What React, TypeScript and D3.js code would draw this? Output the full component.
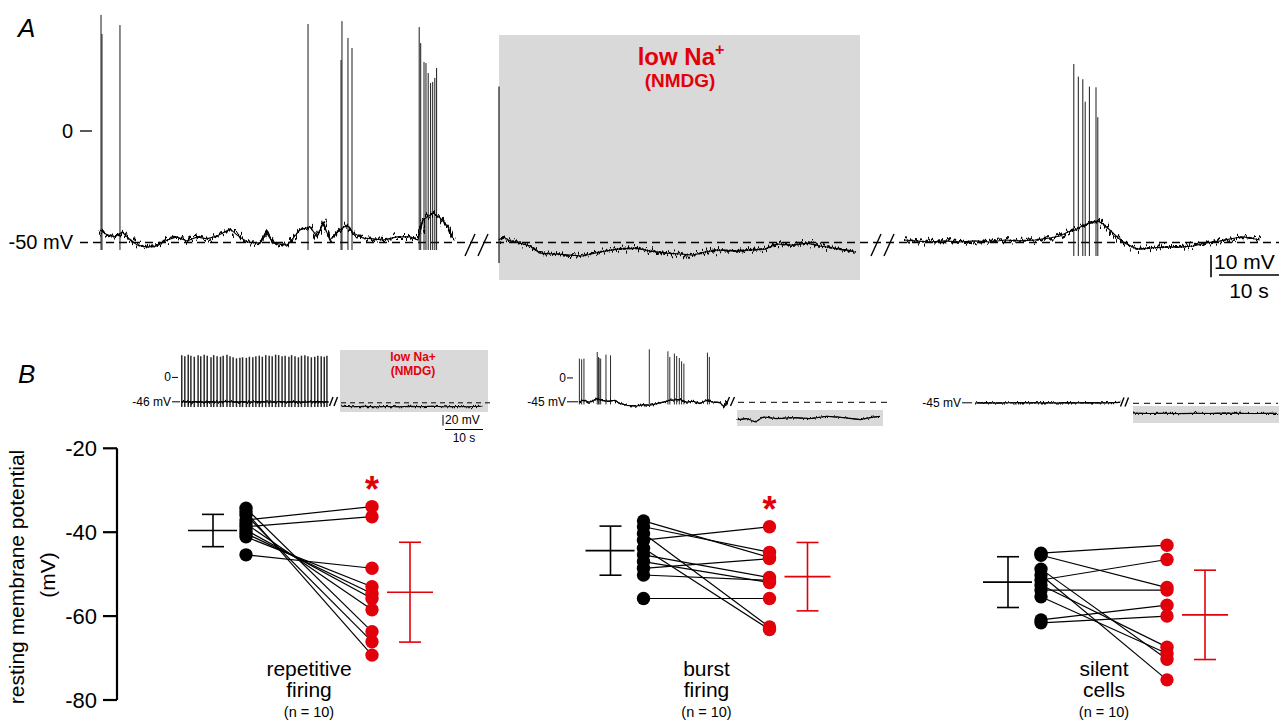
import React from 'react';
import * as d3 from 'd3';

type P = [number, number];

// ---------------- Panel A data: [time (s), membrane potential (mV)] ----------------
const aCtrlBase: P[] = [
  [0, -44.6], [1.2, -46.8], [2.5, -47.7], [3.7, -45.5], [4.7, -48.2], [6.2, -51.4], [7.8, -52.3],
  [9.5, -51.8], [11.2, -49.1], [12.8, -47.7], [14.5, -49.5], [16.2, -47.7], [17.8, -48.6],
  [19.5, -47.3], [21.7, -44.1], [22.8, -46.8], [24.5, -50.0], [26.7, -50.5], [27.8, -45.9],
  [28.8, -50.5], [31.2, -51.4], [32.2, -48.2], [33.3, -44.6], [35.0, -43.2], [36.2, -47.7],
  [37.2, -41.4], [38.3, -49.1], [39.5, -45.5], [41.2, -42.3], [42.2, -45.9], [43.8, -48.2],
  [45.5, -48.6], [47.2, -49.1], [49.5, -47.7], [51.7, -47.7], [53.0, -49.1], [53.8, -40.1],
  [55.5, -36.9], [56.7, -39.2], [58.0, -43.2], [58.8, -48.2],
];
const aCtrlSpikes: P[] = [
  [0.17, 52.3], [0.33, 43.7], [3.33, 47.7], [34.67, 48.2], [40.17, 32.0], [40.33, 49.5],
  [41.33, 41.9], [42.0, 37.4], [53.2, 46.8], [53.45, 39.6], [54.0, 31.1], [54.33, 30.6],
  [54.7, 26.1], [55.1, 21.6], [55.45, 22.1], [55.8, 23.9], [56.1, 28.4],
];
const aCtrlTrough = -53.6;

const aLowNaBase: P[] = [
  [0, -49.1], [0.7, -47.7], [1.8, -49.5], [3.5, -50.5], [5.2, -51.8], [6.8, -55.0], [9.3, -55.4],
  [11.8, -55.9], [14.0, -56.3], [16.8, -54.5], [19.7, -53.2], [23.0, -52.7], [25.2, -54.1],
  [28.0, -55.0], [30.2, -55.4], [32.3, -55.9], [34.3, -54.5], [36.3, -53.6], [39.3, -54.1],
  [41.8, -53.6], [44.3, -53.2], [46.3, -50.9], [48.8, -51.4], [51.3, -50.5], [53.5, -51.8],
  [55.7, -52.7], [57.7, -53.6], [59.3, -54.5],
];
const aLowNaSpikes: P[] = [[0, 20.0]];
const aLowNaTrough = -59.5;

const aWashBase: P[] = [
  [0, -49.1], [1.8, -49.5], [4.3, -50.0], [6.8, -49.5], [9.3, -50.0], [11.8, -49.5], [14.3, -50.0],
  [16.8, -49.1], [19.3, -49.5], [21.8, -49.1], [24.3, -48.2], [26.0, -47.3], [27.3, -45.5],
  [28.5, -44.6], [29.7, -42.8], [31.0, -41.4], [32.3, -40.5], [33.2, -41.9], [34.3, -44.6],
  [35.7, -48.2], [36.8, -50.5], [38.8, -53.2], [41.0, -52.7], [43.5, -52.3], [46.0, -52.3],
  [48.2, -51.8], [50.2, -50.5], [52.7, -49.5], [55.2, -48.2], [56.5, -47.7], [57.7, -48.2],
  [59.3, -49.1],
];
const aWashSpikes: P[] = [
  [28.3, 30.2], [29.05, 24.5], [29.8, 23.3], [30.2, 13.2], [30.9, 20.0], [32.0, 19.7], [32.3, 6.2],
];
const aWashTrough = -56.3;

const aRefMV = -50;
const aTicksMV = [0, -50];
const aTickLabels = ['0', '-50 mV'];
const aScaleMV = 10;
const aScaleS = 10;

// ---------------- Panel B inset data ----------------
const bRepRest = -46;
const bRepBase: P[] = [
  [0, -45.6], [2, -46.4], [4, -45.8], [6, -46.6], [8, -45.9], [10, -46.3], [12, -45.5], [14, -46.5],
  [16, -46.0], [18, -46.8], [20, -45.7], [22, -46.2], [24, -46.6], [26, -45.8], [28, -46.4],
  [30, -45.9], [32, -46.7], [34, -46.1], [36, -45.6], [38.6, -46.3],
];
const bRepSpikeT = [
  0.2, 1.0, 1.9, 2.6, 3.5, 4.5, 5.2, 6.1, 6.9, 7.9, 8.6, 9.5, 10.4, 11.1, 12.1, 12.9, 13.7, 14.6,
  15.5, 16.2, 17.2, 18.0, 18.9, 19.7, 20.6, 21.4, 22.3, 23.2, 24.0, 24.9, 25.7, 26.6, 27.4, 28.4,
  29.1, 30.0, 30.9, 31.7, 32.6, 33.4, 34.3, 35.2, 36.0, 36.9, 37.7, 38.4,
];
const bRepSpikePeak = [
  42, 40, 43, 41, 39, 42, 40, 43, 41, 38, 42, 40, 39, 41, 43, 40, 38, 36, 37, 38, 37, 39, 38, 40,
  41, 39, 42, 41, 40, 43, 42, 40, 41, 39, 42, 40, 38, 41, 42, 40, 38, 39, 41, 40, 39, 41,
];
const bRepTrough = -56;
const bRepLowNa: P[] = [
  [0, -54.5], [3, -55.2], [6, -54.6], [9, -55.4], [12, -54.8], [15, -55.3], [18, -54.7], [21, -55.1],
  [24, -54.5], [27, -55.3], [30, -54.9], [33, -55.2], [36.8, -54.7],
];

const bBurstRest = -45;
const bBurstBase: P[] = [
  [0, -45.4], [1.1, -42.2], [2.9, -45.9], [4.7, -39.0], [6.0, -42.2], [7.7, -44.1], [9.5, -42.2],
  [10.8, -48.4], [12.6, -51.6], [15.2, -52.9], [16.9, -50.3], [18.7, -51.6], [20.5, -48.4],
  [22.2, -45.4], [23.9, -42.2], [26.6, -40.8], [28.3, -45.4], [30.1, -44.1], [31.8, -48.4],
  [33.6, -42.2], [35.3, -45.4], [37.1, -46.5], [38.2, -54.8], [38.9, -44.1],
];
const bBurstSpikes: P[] = [
  [0.1, 36.5], [0.7, 35.2], [1.3, 36.5], [4.8, 49], [5.1, 39.5], [5.3, 37.6], [5.7, 36.5],
  [7.1, 44], [8.3, 42.7], [18.5, 54], [23.4, 50.3], [23.9, 39.5], [25.1, 46], [25.7, 41.4],
  [26.4, 37.6], [27.0, 31.4], [27.6, 27], [33.8, 47.8], [34.3, 39.5],
];
const bBurstTrough = -50;
const bBurstLowNa: P[] = [
  [0, -78.6], [2.5, -76.7], [4.7, -83.1], [6.8, -73.7], [10.4, -76.7], [14.7, -74.8], [19.1, -76.7],
  [23.5, -72.4], [27.9, -74.8], [32.3, -78.6], [34.9, -74.8], [37.5, -72.4],
];

const bSilentRest = -45;
const bSilentBase: P[] = [
  [0, -45.3], [3, -44.8], [6, -45.4], [9, -45.0], [12, -44.6], [15, -45.2], [18, -44.9], [21, -45.3],
  [24, -44.7], [27, -45.1], [30, -44.6], [33, -45.2], [36, -44.8], [38.2, -44.2],
];
const bSilentLowNa: P[] = [
  [0, -64.5], [4, -65.2], [8, -64.8], [12, -65.4], [16, -64.9], [20, -65.1], [24, -64.4], [28, -65.0],
  [32, -65.3], [36, -64.8], [37.9, -65.0],
];
const bInsetScaleMV = 20;
const bInsetScaleS = 10;

// ---------------- Panel B dot plot data (resting membrane potential, mV) ----------------
const groups = ['repetitive firing', 'burst firing', 'silent cells'];
const groupLines = [['repetitive', 'firing'], ['burst', 'firing'], ['silent', 'cells']];
const groupN = ['(n = 10)', '(n = 10)', '(n = 10)'];
const repCtrl = [-34.3, -35.2, -35.9, -37.1, -38.0, -38.7, -39.5, -40.3, -41.1, -45.4];
const repLowNa = [-63.7, -69.3, -66.1, -33.9, -58.5, -36.3, -55.8, -54.6, -53.0, -48.6];
const burstCtrl = [-37.3, -38.7, -40.3, -41.9, -43.8, -45.4, -47.0, -48.6, -50.2, -55.8];
const burstLowNa = [-46.0, -44.8, -62.6, -38.7, -63.2, -50.8, -52.0, -46.3, -51.5, -55.8];
const silentCtrl = [-45.0, -45.5, -48.8, -50.2, -51.4, -52.6, -53.8, -55.4, -60.9, -61.6];
const silentLowNa = [-43.1, -53.2, -70.3, -75.2, -46.5, -67.4, -53.8, -68.9, -57.4, -60.0];
const ctrlMean = [-39.6, -44.4, -51.9];
const ctrlSD = [3.85, 5.85, 6.05];
const lowNaMean = [-54.3, -50.6, -59.7];
const lowNaSD = [11.9, 8.15, 10.65];
const significant = [true, true, false];
const yTicks = [-20, -40, -60, -80];

// ---------------- styling ----------------
const RED = '#e2000b';
const GRAY = '#d9d9d9';
const FONT = '"Liberation Sans", Arial, Helvetica, sans-serif';

// Panel A scales
const xA = d3.scaleLinear().domain([0, 10]).range([0, 60]);
const yA = d3.scaleLinear().domain([-50, 0]).range([242, 131]);
const aSegX = [100, 499, 904];

// Inset scales
const xI = d3.scaleLinear().domain([0, 10]).range([0, 38]);
const insetY = (rest: number, yRest: number) =>
  d3.scaleLinear().domain([rest, 0]).range([yRest, yRest + rest * 0.53]);
const yI1 = insetY(bRepRest, 401.8);
const yI2 = insetY(bBurstRest, 401.8);
const yI3 = insetY(bSilentRest, 402.8);

// Dot plot scales
const yB = d3.scaleLinear().domain([-80, -20]).range([700, 448.3]);
const xCat = d3.scalePoint<string>().domain(groups).range([309, 1104]);
const DOT_OFF = 63;

function tracePath(data: P[], x0: number, xs: d3.ScaleLinear<number, number>, ys: d3.ScaleLinear<number, number>) {
  return d3.line<P>().x(d => x0 + xs(d[0])).y(d => ys(d[1]))(data) || '';
}

function Trace({ data, x0, xs, ys, core, noisy, filter }: any) {
  const d = tracePath(data, x0, xs, ys);
  return (
    <g fill="none" stroke="#000">
      <path d={d} strokeWidth={core} />
      <path d={d} strokeWidth={noisy} filter={filter} />
    </g>
  );
}

function Spikes({ data, trough, x0, xs, ys, w = 0.9, color = '#2a2a2a' }: any) {
  return (
    <g stroke={color} strokeWidth={w}>
      {data.map((s: P, i: number) => (
        <line key={i} x1={x0 + xs(s[0])} x2={x0 + xs(s[0])} y1={ys(trough)} y2={ys(s[1])} />
      ))}
    </g>
  );
}

function Break({ x, y, h, gap, w }: { x: number; y: number; h: number; gap: number; w: number }) {
  return (
    <g stroke="#000" strokeWidth={1.4}>
      <line x1={x} y1={y + h / 2} x2={x + w} y2={y - h / 2} />
      <line x1={x + gap} y1={y + h / 2} x2={x + gap + w} y2={y - h / 2} />
    </g>
  );
}

export default function App() {
  const ctrlSets = [repCtrl, burstCtrl, silentCtrl];
  const lowSets = [repLowNa, burstLowNa, silentLowNa];
  const repSpikes: P[] = bRepSpikeT.map((t, i) => [t, bRepSpikePeak[i]]);
  const yRef = yA(aRefMV);
  const barMV = yA(aRefMV) - yA(aRefMV + aScaleMV);

  return (
    <svg width={1279} height={722} style={{ position: 'absolute', left: 0, top: 0, background: '#fff' }}
      fontFamily={FONT}>
      <defs>
        <filter id="noise" filterUnits="userSpaceOnUse" x="0" y="0" width="1279" height="722">
          <feTurbulence type="fractalNoise" baseFrequency="0.5 0.04" numOctaves={2} seed={4} result="n" />
          <feDisplacementMap in="SourceGraphic" in2="n" scale={13} xChannelSelector="G" yChannelSelector="R" />
        </filter>
        <filter id="noiseS" filterUnits="userSpaceOnUse" x="0" y="0" width="1279" height="722">
          <feTurbulence type="fractalNoise" baseFrequency="0.6 0.05" numOctaves={2} seed={9} result="n" />
          <feDisplacementMap in="SourceGraphic" in2="n" scale={5} xChannelSelector="G" yChannelSelector="R" />
        </filter>
      </defs>

      {/* ================= Panel A ================= */}
      <text x={18} y={37} fontSize={26} fontStyle="italic">A</text>
      <rect x={499} y={35} width={361} height={245} fill={GRAY} />
      <text x={681} y={65} fontSize={24} fontWeight="bold" fill={RED} textAnchor="middle">
        low Na<tspan fontSize={16} dy={-10}>+</tspan>
      </text>
      <text x={680} y={87} fontSize={19} fontWeight="bold" fill={RED} textAnchor="middle">(NMDG)</text>

      {aTicksMV.map((v, i) => (
        <g key={i}>
          <text x={73} y={yA(v)} fontSize={20} textAnchor="end" dominantBaseline="central">{aTickLabels[i]}</text>
          {v !== aRefMV && <line x1={80} x2={92} y1={yA(v)} y2={yA(v)} stroke="#000" strokeWidth={1.3} />}
        </g>
      ))}
      <line x1={80} x2={1279} y1={yRef + 0.5} y2={yRef + 0.5} stroke="#000" strokeWidth={1.5} strokeDasharray="8,5" />

      {/* traces */}
      <Spikes data={aCtrlSpikes} trough={aCtrlTrough} x0={aSegX[0]} xs={xA} ys={yA} w={1} color="#1a1a1a" />
      <Trace data={aCtrlBase} x0={aSegX[0]} xs={xA} ys={yA} core={1.1} noisy={2} filter="url(#noise)" />
      <Spikes data={aLowNaSpikes} trough={aLowNaTrough} x0={aSegX[1]} xs={xA} ys={yA} w={1.2} color="#1a1a1a" />
      <Trace data={aLowNaBase} x0={aSegX[1]} xs={xA} ys={yA} core={1.1} noisy={2} filter="url(#noise)" />
      <Spikes data={aWashSpikes} trough={aWashTrough} x0={aSegX[2]} xs={xA} ys={yA} w={1} color="#1a1a1a" />
      <Trace data={aWashBase} x0={aSegX[2]} xs={xA} ys={yA} core={1.1} noisy={2} filter="url(#noise)" />

      <Break x={465} y={yRef + 3} h={22} gap={13} w={10} />
      <Break x={871} y={yRef + 3} h={22} gap={13} w={10} />

      {/* scale bar A */}
      <line x1={1211} x2={1211} y1={255} y2={255 + barMV} stroke="#000" strokeWidth={1.6} />
      <text x={1214} y={268.5} fontSize={21}>{aScaleMV} mV</text>
      <line x1={1279 - xA(aScaleS)} x2={1279} y1={275} y2={275} stroke="#000" strokeWidth={1.6} />
      <text x={1279 - xA(aScaleS) / 2} y={298} fontSize={21} textAnchor="middle">{aScaleS} s</text>

      {/* ================= Panel B insets ================= */}
      <text x={18} y={383} fontSize={26} fontStyle="italic">B</text>

      {/* inset 1: repetitive */}
      <rect x={340} y={350} width={148} height={62} fill={GRAY} />
      <text x={413} y={361} fontSize={12} fontWeight="bold" fill={RED} textAnchor="middle">low Na+</text>
      <text x={413} y={375} fontSize={12} fontWeight="bold" fill={RED} textAnchor="middle">(NMDG)</text>
      <text x={171} y={yI1(0)} fontSize={12} textAnchor="end" dominantBaseline="central">0</text>
      <line x1={172} x2={178} y1={yI1(0)} y2={yI1(0)} stroke="#000" />
      <text x={171} y={yI1(bRepRest)} fontSize={12} textAnchor="end" dominantBaseline="central">{bRepRest} mV</text>
      <line x1={172} x2={180} y1={yI1(bRepRest)} y2={yI1(bRepRest)} stroke="#000" />
      <Spikes data={repSpikes} trough={bRepTrough} x0={181} xs={xI} ys={yI1} w={1.5} color="#2a2a2a" />
      <Trace data={bRepBase} x0={181} xs={xI} ys={yI1} core={1.1} noisy={1.4} filter="url(#noiseS)" />
      <line x1={341} x2={490} y1={yI1(bRepRest) + 1} y2={yI1(bRepRest) + 1} stroke="#000" strokeWidth={1} strokeDasharray="5,4" />
      <Trace data={bRepLowNa} x0={341.5} xs={xI} ys={yI1} core={0.9} noisy={1.1} filter="url(#noiseS)" />
      <Break x={329.5} y={401.5} h={9} gap={4.5} w={3.5} />
      <line x1={443} x2={443} y1={415} y2={415 + bInsetScaleMV * 0.53} stroke="#000" strokeWidth={1} />
      <text x={445} y={424} fontSize={12}>{bInsetScaleMV} mV</text>
      <line x1={445} x2={445 + xI(bInsetScaleS)} y1={429.5} y2={429.5} stroke="#000" strokeWidth={1} />
      <text x={445 + xI(bInsetScaleS) / 2} y={442} fontSize={12} textAnchor="middle">{bInsetScaleS} s</text>

      {/* inset 2: burst */}
      <rect x={737} y={410} width={146} height={16} fill={GRAY} />
      <text x={566} y={yI2(0)} fontSize={12} textAnchor="end" dominantBaseline="central">0</text>
      <line x1={567} x2={573} y1={yI2(0)} y2={yI2(0)} stroke="#000" />
      <text x={566} y={yI2(bBurstRest)} fontSize={12} textAnchor="end" dominantBaseline="central">{bBurstRest} mV</text>
      <line x1={567} x2={578} y1={yI2(bBurstRest)} y2={yI2(bBurstRest)} stroke="#000" />
      <Spikes data={bBurstSpikes} trough={bBurstTrough} x0={579} xs={xI} ys={yI2} w={1} color="#2a2a2a" />
      <Trace data={bBurstBase} x0={579} xs={xI} ys={yI2} core={1.1} noisy={1.3} filter="url(#noiseS)" />
      <line x1={738} x2={890} y1={yI2(bBurstRest) + 0.5} y2={yI2(bBurstRest) + 0.5} stroke="#000" strokeWidth={1} strokeDasharray="6,5" />
      <Trace data={bBurstLowNa} x0={737.5} xs={xI} ys={yI2} core={1} noisy={1.1} filter="url(#noiseS)" />
      <Break x={725.5} y={401.5} h={9} gap={5} w={4} />

      {/* inset 3: silent */}
      <rect x={1133} y={406} width={146} height={17} fill={GRAY} />
      <text x={961} y={yI3(bSilentRest)} fontSize={12} textAnchor="end" dominantBaseline="central">{bSilentRest} mV</text>
      <line x1={962} x2={972} y1={yI3(bSilentRest)} y2={yI3(bSilentRest)} stroke="#000" />
      <Trace data={bSilentBase} x0={975} xs={xI} ys={yI3} core={1.1} noisy={1.3} filter="url(#noiseS)" />
      <line x1={1133} x2={1278} y1={yI3(bSilentRest) + 0.5} y2={yI3(bSilentRest) + 0.5} stroke="#000" strokeWidth={1} strokeDasharray="6,5" />
      <Trace data={bSilentLowNa} x0={1133} xs={xI} ys={yI3} core={1} noisy={1.1} filter="url(#noiseS)" />
      <Break x={1120.5} y={402} h={9} gap={4.5} w={3.5} />

      {/* ================= Panel B dot plot ================= */}
      <line x1={117} x2={117} y1={yB(-20)} y2={yB(-80)} stroke="#000" strokeWidth={2.2} />
      {yTicks.map(t => (
        <g key={t}>
          <line x1={103} x2={117} y1={yB(t)} y2={yB(t)} stroke="#000" strokeWidth={2.2} />
          <text x={97} y={yB(t)} fontSize={22} textAnchor="end" dominantBaseline="central">{t}</text>
        </g>
      ))}
      <text transform={`translate(24,${577}) rotate(-90)`} fontSize={21} textAnchor="middle">resting membrane potential</text>
      <text transform={`translate(55,${575}) rotate(-90)`} fontSize={21} textAnchor="middle">(mV)</text>

      {groups.map((g, gi) => {
        const cx = xCat(g) as number;
        const bx = cx - DOT_OFF;
        const rx = cx + DOT_OFF;
        const ctrl = ctrlSets[gi];
        const low = lowSets[gi];
        const mbx = bx - 33;
        const mrx = rx + 38;
        return (
          <g key={g}>
            {ctrl.map((v, i) => (
              <line key={i} x1={bx} y1={yB(v)} x2={rx} y2={yB(low[i])} stroke="#000" strokeWidth={1.2} />
            ))}
            {ctrl.map((v, i) => <circle key={'b' + i} cx={bx} cy={yB(v)} r={6.7} fill="#000" />)}
            {low.map((v, i) => <circle key={'r' + i} cx={rx} cy={yB(v)} r={6.7} fill={RED} />)}
            {/* mean ± SD crosses */}
            <g stroke="#000" strokeWidth={1.6}>
              <line x1={mbx - 25} x2={mbx + 24} y1={yB(ctrlMean[gi])} y2={yB(ctrlMean[gi])} />
              <line x1={mbx} x2={mbx} y1={yB(ctrlMean[gi] + ctrlSD[gi])} y2={yB(ctrlMean[gi] - ctrlSD[gi])} />
              <line x1={mbx - 11} x2={mbx + 11} y1={yB(ctrlMean[gi] + ctrlSD[gi])} y2={yB(ctrlMean[gi] + ctrlSD[gi])} />
              <line x1={mbx - 11} x2={mbx + 11} y1={yB(ctrlMean[gi] - ctrlSD[gi])} y2={yB(ctrlMean[gi] - ctrlSD[gi])} />
            </g>
            <g stroke={RED} strokeWidth={1.6}>
              <line x1={mrx - 23} x2={mrx + 23} y1={yB(lowNaMean[gi])} y2={yB(lowNaMean[gi])} />
              <line x1={mrx} x2={mrx} y1={yB(lowNaMean[gi] + lowNaSD[gi])} y2={yB(lowNaMean[gi] - lowNaSD[gi])} />
              <line x1={mrx - 11} x2={mrx + 11} y1={yB(lowNaMean[gi] + lowNaSD[gi])} y2={yB(lowNaMean[gi] + lowNaSD[gi])} />
              <line x1={mrx - 11} x2={mrx + 11} y1={yB(lowNaMean[gi] - lowNaSD[gi])} y2={yB(lowNaMean[gi] - lowNaSD[gi])} />
            </g>
            {significant[gi] && (
              <text x={rx} y={yB(d3.max(low) as number) - 5} fontSize={36} fontWeight="bold" fill={RED} textAnchor="middle">*</text>
            )}
            <text x={cx} y={676} fontSize={21} textAnchor="middle">{groupLines[gi][0]}</text>
            <text x={cx} y={697} fontSize={21} textAnchor="middle">{groupLines[gi][1]}</text>
            <text x={cx} y={716.5} fontSize={14.5} textAnchor="middle">{groupN[gi]}</text>
          </g>
        );
      })}
    </svg>
  );
}
